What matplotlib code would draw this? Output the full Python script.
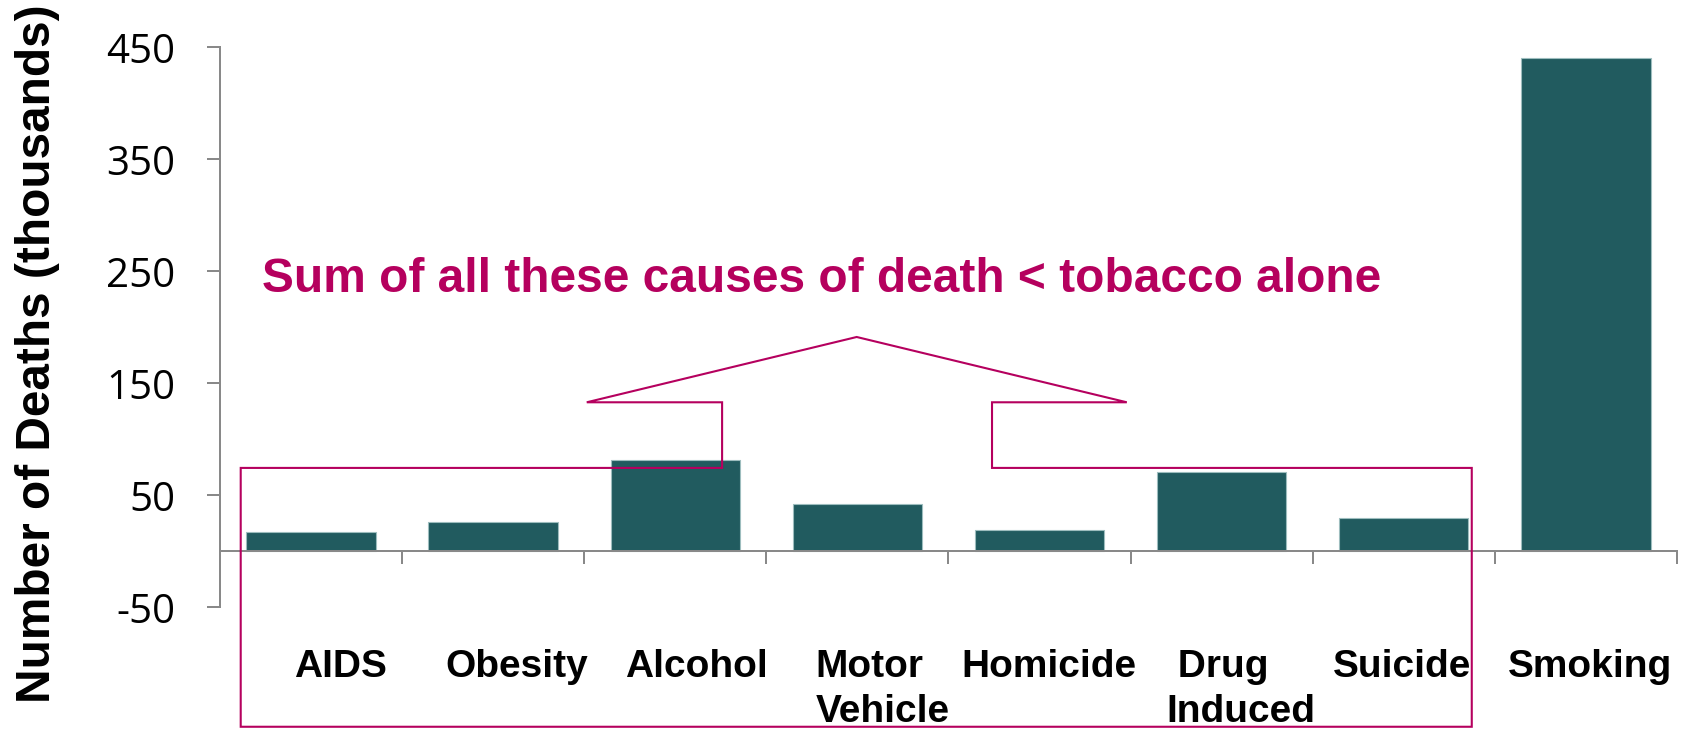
import matplotlib
matplotlib.use("Agg")
import matplotlib.pyplot as plt
import matplotlib.transforms as mtransforms
from matplotlib.patches import Polygon
from matplotlib.ticker import NullFormatter

# Data: deaths per year, thousands
causes = ["AIDS", "Obesity", "Alcohol", "Motor\nVehicle", "Homicide",
          " Drug\nInduced", "Suicide", "Smoking"]
deaths = [17, 26, 82, 42, 19, 71, 30, 441]
yticks = [-50, 50, 150, 250, 350, 450]
note = "Sum of all these causes of death < tobacco alone"

bar_color = "#215B5F"
pink = "#B5005E"
axis_gray = "#898989"

plt.rcParams['axes.unicode_minus'] = False

fig = plt.figure(figsize=(16.88, 7.29), dpi=100)
ax = fig.add_axes([0.1303, 0.1667, 0.8632, 0.7682])

x = list(range(len(causes)))
ax.bar(x, deaths, width=0.71, color=bar_color, edgecolor="#9DBDBE",
       linewidth=0.8, zorder=2)

ax.set_xlim(-0.5, len(causes) - 0.5)
ax.set_ylim(-50, 450)

# y axis
ax.set_yticks(yticks)
ax.set_yticklabels([str(v) for v in yticks], family="Open Sans", fontsize=29)
ax.tick_params(axis='y', length=9.4, width=1.44, color=axis_gray, pad=23)
ax.set_ylabel("Number of Deaths (thousands)", family="Liberation Sans",
              fontweight="bold", fontsize=34.4)
ax.yaxis.set_label_coords(-0.1098, 0.4527)

# x axis sits on zero, category labels hang well below
for s in ["top", "right"]:
    ax.spines[s].set_visible(False)
for s in ["left", "bottom"]:
    ax.spines[s].set_color(axis_gray)
    ax.spines[s].set_linewidth(1.44)
ax.spines["bottom"].set_position(("data", 0))

ax.set_xticks([i + 0.5 for i in x])
ax.xaxis.set_major_formatter(NullFormatter())
ax.tick_params(axis='x', which='major', length=9.4, width=1.44, color=axis_gray)

ax.set_xticks(x, minor=True)
ax.set_xticklabels(causes, minor=True, family="Liberation Sans",
                   fontweight="bold", fontsize=28)
ax.tick_params(axis='x', which='minor', length=0, pad=70.5)
# the labels in the original drift a little right of the bars
label_nudge = [29.5, 23.3, 20.7, 25.1, 9.0, 19.4, -2.2, 3.7]
for t, dx in zip(ax.xaxis.get_minor_ticks(), label_nudge):
    t.label1.set_transform(t.label1.get_transform() +
                           mtransforms.ScaledTranslation(dx / 100, 0, fig.dpi_scale_trans))
    t.label1.set_multialignment("left")
    t.label1.set_linespacing(1.3)

# callout box round the first seven causes
outline = [(-0.386, 74.6), (2.257, 74.6), (2.257, 133.2), (1.514, 133.2),
           (2.996, 191.5), (4.479, 133.2), (3.739, 133.2), (3.739, 74.6),
           (6.373, 74.6), (6.373, -156.5), (-0.386, -156.5)]
ax.add_patch(Polygon(outline, closed=True, fill=False, edgecolor=pink,
                     linewidth=1.5, clip_on=False, zorder=3))

ax.text(-0.271, 232, note, color=pink, family="Liberation Sans",
        fontweight="bold", fontsize=34.5, ha="left", va="baseline")

fig.savefig("out.png", dpi=100)
